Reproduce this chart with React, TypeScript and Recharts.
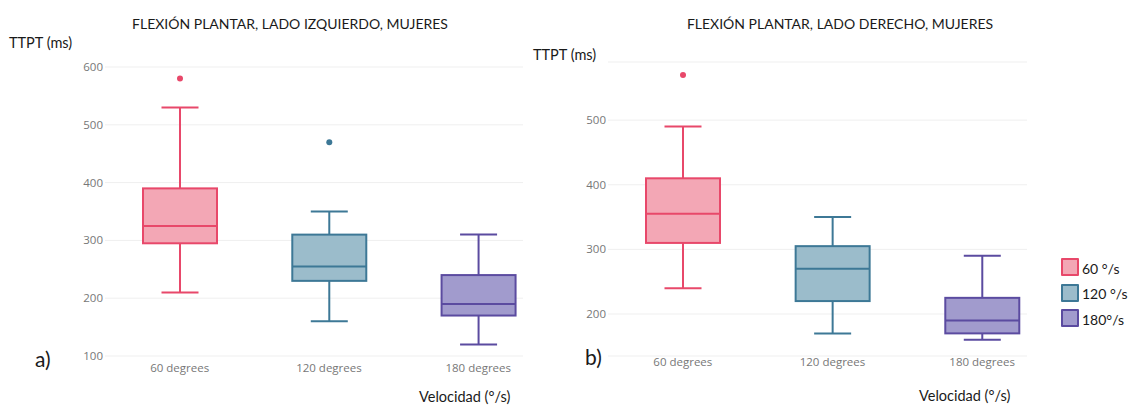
import { ComposedChart, Bar, XAxis, YAxis, CartesianGrid } from 'recharts'

const categories = ['60 degrees', '120 degrees', '180 degrees']
const seriesNames = ['60 °/s', '120 °/s', '180°/s']

// left panel: izquierdo
const leftMin = [210, 160, 120]
const leftQ1 = [295, 230, 170]
const leftMedian = [325, 255, 190]
const leftQ3 = [390, 310, 240]
const leftMax = [530, 350, 310]
const leftOutliers = [[580], [470], []]
const leftTicks = [100, 200, 300, 400, 500, 600]

// right panel: derecho
const rightMin = [240, 170, 160]
const rightQ1 = [310, 220, 170]
const rightMedian = [355, 270, 190]
const rightQ3 = [410, 305, 225]
const rightMax = [490, 350, 290]
const rightOutliers = [[570], [], []]
const rightTicks = [200, 300, 400, 500]

const STROKES = ['#E8486A', '#3D7896', '#5B4BA0']
const FILLS = ['#F3A7B5', '#9BBCCB', '#A19BCD']

const LABEL_FONT = 'Lato, "Liberation Sans", sans-serif'
const TICK_FONT = '"Open Sans", sans-serif'

function buildRows(min: number[], q1: number[], med: number[], q3: number[], max: number[], out: number[][]) {
  return categories.map((name, i) => ({
    x: i,
    name,
    box: [q1[i], q3[i]],
    min: min[i],
    q1: q1[i],
    median: med[i],
    q3: q3[i],
    max: max[i],
    outliers: out[i],
    stroke: STROKES[i],
    fill: FILLS[i],
  }))
}

// draws the whole box plot from the range bar (q1..q3) the library positioned
function BoxShape(props: any) {
  const { x, y, width, height, payload } = props
  if (!payload || height == null) return null
  const top = Math.min(y, y + height)
  const k = Math.abs(height) / (payload.q3 - payload.q1)
  const py = (v: number) => top + (payload.q3 - v) * k
  const cx = x + width / 2
  const cap = width / 2
  const s = payload.stroke
  return (
    <g>
      <line x1={cx} x2={cx} y1={py(payload.max)} y2={py(payload.q3)} stroke={s} strokeWidth={2} />
      <line x1={cx} x2={cx} y1={py(payload.q1)} y2={py(payload.min)} stroke={s} strokeWidth={2} />
      <line x1={cx - cap / 2} x2={cx + cap / 2} y1={py(payload.max)} y2={py(payload.max)} stroke={s} strokeWidth={2} />
      <line x1={cx - cap / 2} x2={cx + cap / 2} y1={py(payload.min)} y2={py(payload.min)} stroke={s} strokeWidth={2} />
      <rect x={x} y={py(payload.q3)} width={width} height={py(payload.q1) - py(payload.q3)} fill={payload.fill} stroke={s} strokeWidth={2} />
      <line x1={x} x2={x + width} y1={py(payload.median)} y2={py(payload.median)} stroke={s} strokeWidth={2} />
      {payload.outliers.map((o: number, j: number) => (
        <circle key={j} cx={cx} cy={py(o)} r={3} fill={s} />
      ))}
    </g>
  )
}

interface PanelProps {
  rows: ReturnType<typeof buildRows>
  ticks: number[]
  domain: [number, number]
  width: number
  margin: { top: number; right: number; bottom: number; left: number }
  xTickMargin: number
}

function BoxPanel({ rows, ticks, domain, width, margin, xTickMargin }: PanelProps) {
  return (
    <ComposedChart width={width} height={406} data={rows} margin={margin}>
      <CartesianGrid vertical={false} stroke="#efefef" />
      <XAxis
        type="number"
        dataKey="x"
        domain={[-0.5, 2.3]}
        allowDataOverflow
        ticks={[0, 1, 2]}
        interval={0}
        tickFormatter={(v) => categories[v] ?? ''}
        axisLine={false}
        tickLine={false}
        tickSize={0}
        tickMargin={xTickMargin}
        height={30}
        tick={{ fontSize: 11.5, fill: '#777', fontFamily: TICK_FONT }}
      />
      <YAxis
        type="number"
        domain={domain}
        ticks={ticks}
        allowDataOverflow
        axisLine={false}
        tickLine={false}
        tickSize={0}
        tickMargin={2}
        width={40}
        tick={{ fontSize: 11.5, fill: '#777', fontFamily: TICK_FONT }}
      />
      <Bar dataKey="box" barSize={74} shape={BoxShape} isAnimationActive={false} />
    </ComposedChart>
  )
}

const txt = (style: React.CSSProperties): React.CSSProperties => ({
  position: 'absolute',
  fontFamily: LABEL_FONT,
  color: '#1a1a1a',
  whiteSpace: 'nowrap',
  lineHeight: 1,
  ...style,
})

export default function App() {
  const leftRows = buildRows(leftMin, leftQ1, leftMedian, leftQ3, leftMax, leftOutliers)
  const rightRows = buildRows(rightMin, rightQ1, rightMedian, rightQ3, rightMax, rightOutliers)

  return (
    <div style={{ position: 'absolute', left: 0, top: 0, width: 1128, height: 406, background: '#fff', overflow: 'hidden' }}>
      <div style={{ position: 'absolute', left: 0, top: 0 }}>
        <BoxPanel
          rows={leftRows}
          ticks={leftTicks}
          domain={[100, 600]}
          width={560}
          margin={{ top: 67, right: 37, bottom: 20, left: 65 }}
          xTickMargin={8}
        />
      </div>
      <div style={{ position: 'absolute', left: 560, top: 0 }}>
        <BoxPanel
          rows={rightRows}
          ticks={rightTicks}
          domain={[135, 590]}
          width={568}
          margin={{ top: 62, right: 101, bottom: 20, left: 8 }}
          xTickMargin={2}
        />
      </div>

      {/* titles and labels */}
      <div style={txt({ left: 290, top: 17, transform: 'translateX(-50%)', fontSize: 14 })}>
        FLEXIÓN PLANTAR, LADO IZQUIERDO, MUJERES
      </div>
      <div style={txt({ left: 840, top: 17, transform: 'translateX(-50%)', fontSize: 14 })}>
        FLEXIÓN PLANTAR, LADO DERECHO, MUJERES
      </div>
      <div style={txt({ left: 9, top: 36, fontSize: 14.5 })}>TTPT (ms)</div>
      <div style={txt({ left: 533, top: 48, fontSize: 14.5 })}>TTPT (ms)</div>
      <div style={txt({ left: 419, top: 390, fontSize: 14.5 })}>Velocidad (°/s)</div>
      <div style={txt({ left: 919, top: 389, fontSize: 14.5 })}>Velocidad (°/s)</div>
      <div style={txt({ left: 35, top: 348, fontSize: 21 })}>a)</div>
      <div style={txt({ left: 585, top: 346, fontSize: 21 })}>b)</div>

      {/* legend */}
      <div style={{ position: 'absolute', left: 1061, top: 258 }}>
        {seriesNames.map((name, i) => (
          <div key={name} style={{ display: 'flex', alignItems: 'flex-end', height: 25.5 }}>
            <div
              style={{
                width: 14,
                height: 14,
                border: `2px solid ${STROKES[i]}`,
                background: FILLS[i],
                marginBottom: 7.5,
                borderRadius: 1,
              }}
            />
            <span style={txt({ position: 'static', fontSize: 14, marginLeft: 3, marginBottom: 8 })}>{name}</span>
          </div>
        ))}
      </div>
    </div>
  )
}
